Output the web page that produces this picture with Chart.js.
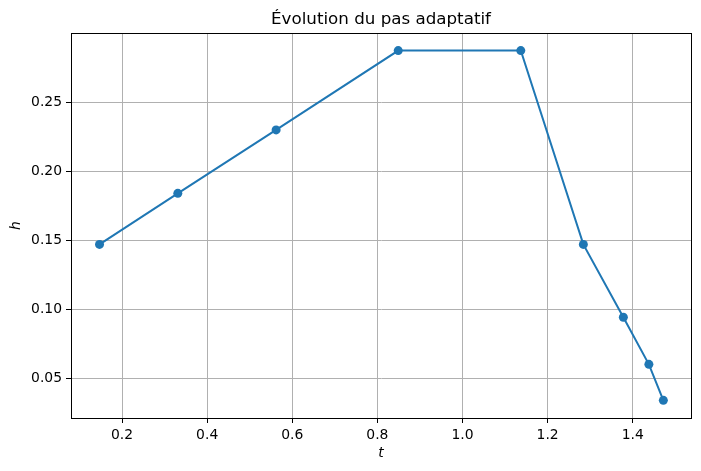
<!DOCTYPE html>
<html>
<head>
<meta charset="utf-8">
<script src="https://cdn.jsdelivr.net/npm/chart.js@4/dist/chart.umd.min.js"></script>
<style>
  html, body { margin: 0; padding: 0; background: #fff; }
</style>
</head>
<body>
<canvas id="chart" width="701" height="471"></canvas>
<script>
// values
const tValues = [0.147, 0.331, 0.562, 0.849, 1.137, 1.284, 1.378, 1.438, 1.472]
const hValues = [0.147, 0.184, 0.230, 0.2875, 0.2875, 0.147, 0.0942, 0.0601, 0.034]
const xTicks = [0.2, 0.4, 0.6, 0.8, 1.0, 1.2, 1.4]
const yTicks = [0.05, 0.10, 0.15, 0.20, 0.25]

const blue = '#1f77b4'
const gridGray = '#b0b0b0'

Chart.defaults.font.family = '"DejaVu Sans", sans-serif'
Chart.defaults.color = '#000'

// matplotlib draws a full box round the axes
const frame = {
  id: 'frame',
  afterDatasetsDraw(chart) {
    const { ctx, chartArea: a } = chart
    ctx.save()
    ctx.strokeStyle = '#000'
    ctx.lineWidth = 1
    ctx.strokeRect(Math.round(a.left) + 0.5, Math.round(a.top) + 0.5,
      Math.round(a.right - a.left), Math.round(a.bottom - a.top))
    ctx.restore()
  },
}

const points = tValues.map((t, i) => ({ x: t, y: hValues[i] }))

new Chart(document.getElementById('chart'), {
  type: 'line',
  data: {
    datasets: [{
      data: points,
      borderColor: blue,
      backgroundColor: blue,
      borderWidth: 2,
      pointRadius: 4.5,
      pointBorderWidth: 0,
      pointBackgroundColor: blue,
      tension: 0,
    }],
  },
  options: {
    responsive: false,
    animation: false,
    layout: { padding: { top: 0, right: 10, bottom: 0, left: 0 } },
    plugins: {
      legend: { display: false },
      tooltip: { enabled: false },
      title: {
        display: true,
        text: 'Évolution du pas adaptatif',
        fullSize: false,
        font: { size: 16.7, weight: 'normal', lineHeight: 1.2 },
        padding: { top: 10, bottom: 3 },
        color: '#000',
      },
    },
    scales: {
      x: {
        type: 'linear',
        min: 0.08,
        max: 1.537,
        afterBuildTicks: s => { s.ticks = xTicks.map(v => ({ value: v })) },
        afterFit: s => { s.height = 53 },
        ticks: {
          callback: v => v.toFixed(1),
          font: { size: 13.9 },
          padding: 4,
          maxRotation: 0,
        },
        grid: { color: gridGray, lineWidth: 1, tickColor: '#000', tickLength: 5 },
        border: { color: '#000', width: 1 },
        title: {
          display: true,
          text: 't',
          font: { size: 13.9, style: 'italic' },
          padding: { top: 4, bottom: 9 },
        },
      },
      y: {
        type: 'linear',
        min: 0.0212,
        max: 0.3002,
        afterBuildTicks: s => { s.ticks = yTicks.map(v => ({ value: v })) },
        afterFit: s => { s.width = 71 },
        ticks: {
          callback: v => v.toFixed(2),
          font: { size: 13.9 },
          padding: 4,
        },
        grid: { color: gridGray, lineWidth: 1, tickColor: '#000', tickLength: 5 },
        border: { color: '#000', width: 1 },
        title: {
          display: true,
          text: 'h',
          font: { size: 13.9, style: 'italic' },
          padding: { top: 8, bottom: 4 },
        },
      },
    },
  },
  plugins: [frame],
})
</script>
</body>
</html>
